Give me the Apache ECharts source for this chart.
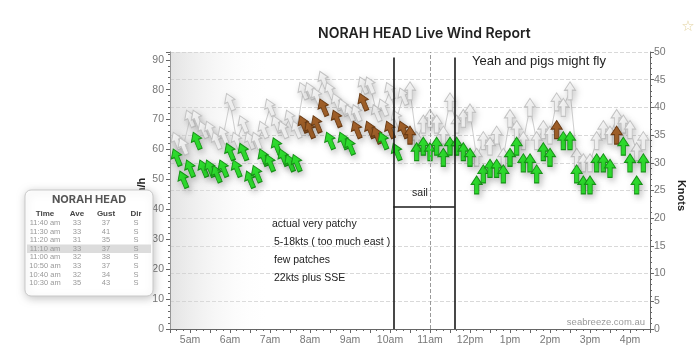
<!DOCTYPE html>
<html>
<head>
<meta charset="utf-8">
<script src="https://cdn.jsdelivr.net/npm/echarts@6/dist/echarts.min.js"></script>
<style>
  html, body { margin: 0; padding: 0; background: #fff; }
  #chart { width: 700px; height: 353px; }
</style>
</head>
<body>
<div id="chart"></div>
<script>
// 采样时间（每10分钟）
const times = [
  '04:40', '04:50', '05:00', '05:10', '05:20', '05:30', '05:40', '05:50',
  '06:00', '06:10', '06:20', '06:30', '06:40', '06:50',
  '07:00', '07:10', '07:20', '07:30', '07:40', '07:50',
  '08:00', '08:10', '08:20', '08:30', '08:40', '08:50',
  '09:00', '09:10', '09:20', '09:30', '09:40', '09:50',
  '10:00', '10:10', '10:20', '10:30', '10:40', '10:50',
  '11:00', '11:10', '11:20', '11:30', '11:40', '11:50',
  '12:00', '12:10', '12:20', '12:30', '12:40', '12:50',
  '13:00', '13:10', '13:20', '13:30', '13:40', '13:50',
  '14:00', '14:10', '14:20', '14:30', '14:40', '14:50',
  '15:00', '15:10', '15:20', '15:30', '15:40', '15:50',
  '16:00', '16:10', '16:20'
]
// 平均风速（节）
const aveKts = [
  31, 27, 29, 34, 29, 29, 28, 29,
  32, 29, 32, 27, 28, 31,
  30, 33, 31, 30, 30, 37,
  36, 37, 40, 34, 38, 34,
  33, 36, 41, 36, 35, 34,
  36, 32, 36, 35, 32, 33,
  32, 33, 31, 33, 33, 32,
  31, 26, 28, 29, 29, 28,
  31, 33, 30, 30, 28, 32,
  31, 36, 34, 34, 28, 26,
  26, 30, 30, 29, 35, 33,
  30, 26, 30
]
// 阵风（节）
const gustKts = [
  34, 33, 38, 38, 36, 36, 34, 35,
  41, 34, 37, 34, 34, 36,
  40, 37, 36, 38, 36, 43,
  43, 42, 45, 43, 41, 40,
  39, 39, 44, 44, 39, 40,
  43, 38, 42, 43, 34, 37,
  38, 37, 35, 41, 37, 38,
  39, 31, 34, 33, 35, 31,
  38, 36, 34, 40, 34, 36,
  35, 41, 40, 43, 31, 30,
  30, 34, 36, 35, 38, 37,
  36, 32, 34
]
// 风向
const dirs = [
  'SSE', 'SSE', 'SSE', 'SSE', 'SSE', 'SSE', 'SSE', 'SSE',
  'SSE', 'SSE', 'SSE', 'SSE', 'SSE', 'SSE',
  'SSE', 'SSE', 'SSE', 'SSE', 'SSE', 'SSE',
  'SSE', 'SSE', 'SSE', 'SSE', 'SSE', 'SSE',
  'SSE', 'SSE', 'SSE', 'SSE', 'SSE', 'SSE',
  'SSE', 'SSE', 'SSE', 'S', 'S', 'S',
  'S', 'S', 'S', 'S', 'S', 'S',
  'S', 'S', 'S', 'S', 'S', 'S',
  'S', 'S', 'S', 'S', 'S', 'S',
  'S', 'S', 'S', 'S', 'S', 'S',
  'S', 'S', 'S', 'S', 'S', 'S',
  'S', 'S', 'S'
]
const hourLabels = ['5am', '6am', '7am', '8am', '9am', '10am', '11am', '12pm', '1pm', '2pm', '3pm', '4pm']
const notes = ['actual very patchy', '5-18kts ( too much east )', 'few patches', '22kts plus SSE']
// 手画的标注线
const sailFrom = '10:05'
const sailTo = '11:37'
const sailKts = 22
const sailTopKts = 49
const crossTime = '11:00'
const nightEnd = '07:00'

const arrow = 'path://M5,0L10,8L7,8L7,17L3,17L3,8L0,8Z'
const dirDeg = {S: 180, SSE: 157.5, SE: 135}

function toMin(s) {
  let [h, m] = s.split(':')
  return Number(h) * 60 + Number(m)
}

function ampm(s) {
  let [h, m] = s.split(':').map(Number)
  let suffix = h >= 12 ? 'pm' : 'am'
  let hh = h > 12 ? h - 12 : h
  return hh + ':' + String(m).padStart(2, '0') + ' ' + suffix
}

function rot(value, params) {
  return 180 - dirDeg[dirs[params.dataIndex]]
}

// 平均风速超过35节用棕色
const aveData = times.map((t, i) => ({
  value: [toMin(t), aveKts[i]],
  itemStyle: aveKts[i] >= 35
    ? {color: '#a4622a', borderColor: '#6a3b14'}
    : {color: '#2fe22f', borderColor: '#169216'}
}))
const gustData = times.map((t, i) => [toMin(t), gustKts[i]])

// 左侧表格
const tableCols = [45, 77, 106, 136]
const tableRows = []
for (let i = 42; i >= 35; i--) {
  tableRows.push([ampm(times[i]), aveKts[i], gustKts[i], dirs[i]])
}
const tableGraphic = [
  {
    type: 'rect', z: 100,
    shape: {x: 25, y: 190, width: 128, height: 106, r: 6},
    style: {fill: '#fff', stroke: '#c9c9c9', lineWidth: 1, shadowBlur: 8, shadowColor: 'rgba(0,0,0,0.22)', shadowOffsetX: 1, shadowOffsetY: 2}
  },
  {
    type: 'rect', z: 101,
    shape: {x: 27, y: 244.5, width: 124, height: 8.6},
    style: {fill: '#dcdcdc'}
  },
  {
    type: 'text', z: 102, x: 89, y: 200,
    style: {text: 'NORAH HEAD', font: 'bold 11px Inter', fill: '#555', textAlign: 'center', textVerticalAlign: 'middle'}
  }
]
;['Time', 'Ave', 'Gust', 'Dir'].forEach((h, c) => {
  tableGraphic.push({
    type: 'text', z: 102, x: tableCols[c], y: 214,
    style: {text: h, font: 'bold 8px "Liberation Sans"', fill: '#444', textAlign: 'center', textVerticalAlign: 'middle'}
  })
})
tableRows.forEach((row, r) => {
  row.forEach((cell, c) => {
    tableGraphic.push({
      type: 'text', z: 102, x: tableCols[c], y: 223 + r * 8.6,
      style: {text: String(cell), font: '7.5px "Liberation Sans"', fill: '#999', textAlign: 'center', textVerticalAlign: 'middle'}
    })
  })
})

const noteGraphic = notes.map((n, i) => ({
  type: 'text', z: 50, x: i === 0 ? 272 : 274, y: 224 + i * 18,
  style: {text: n, font: '10.5px "Liberation Sans"', fill: '#222', textVerticalAlign: 'middle'}
}))

let myChart = echarts.init(document.getElementById('chart'))
myChart.setOption({
  animation: false,
  backgroundColor: '#fff',
  title: {
    text: 'NORAH HEAD Live Wind Report',
    left: 313, top: 22,
    textStyle: {fontFamily: 'Inter', fontSize: 14, fontWeight: 600, color: '#222'}
  },
  grid: {left: 170, right: 50, top: 52, bottom: 24},
  xAxis: {
    type: 'value',
    min: 270, max: 990, interval: 30,
    axisLine: {lineStyle: {color: '#666'}},
    axisTick: {length: 4, lineStyle: {color: '#666'}},
    minorTick: {show: true, splitNumber: 3, length: 2, lineStyle: {color: '#666'}},
    axisLabel: {
      color: '#777', fontSize: 10.5, margin: 6, fontFamily: 'Liberation Sans',
      formatter: v => v % 60 === 0 ? (hourLabels[(v - 300) / 60] || '') : ''
    },
    splitLine: {show: false}
  },
  yAxis: [
    {
      type: 'value', position: 'left',
      min: 0, max: 92.6, interval: 10,
      name: 'km/h', nameLocation: 'middle', nameGap: 23, nameRotate: 90, nameMoveOverlap: false,
      nameTextStyle: {color: '#222', fontWeight: 'bold', fontSize: 11, fontFamily: 'Liberation Sans'},
      axisLine: {show: true, lineStyle: {color: '#666'}},
      axisTick: {show: true, length: 4, lineStyle: {color: '#666'}},
      minorTick: {show: true, splitNumber: 5, length: 2, lineStyle: {color: '#666'}},
      axisLabel: {
        color: '#777', fontSize: 10.5, margin: 6, fontFamily: 'Liberation Sans', showMaxLabel: false,
        formatter: v => v % 10 === 0 ? v : ''
      },
      splitLine: {show: false}
    },
    {
      type: 'value', position: 'right',
      min: 0, max: 50, interval: 5,
      name: 'Knots', nameLocation: 'middle', nameGap: 26, nameRotate: -90, nameMoveOverlap: false,
      nameTextStyle: {color: '#222', fontWeight: 'bold', fontSize: 11, fontFamily: 'Liberation Sans', padding: [0, 0, 0, 10]},
      axisLine: {show: true, lineStyle: {color: '#666'}},
      axisTick: {show: true, length: 4, lineStyle: {color: '#666'}},
      minorTick: {show: true, splitNumber: 5, length: 2, lineStyle: {color: '#666'}},
      axisLabel: {color: '#777', fontSize: 10.5, margin: 4, fontFamily: 'Liberation Sans'},
      splitLine: {show: true, lineStyle: {color: '#d9d9d9', type: 'dashed'}}
    }
  ],
  series: [
    {
      name: 'Gust',
      type: 'line',
      yAxisIndex: 1,
      data: gustData,
      symbol: arrow,
      symbolSize: [11, 18],
      symbolRotate: rot,
      showAllSymbol: true,
      lineStyle: {color: '#cfcfcf', width: 1},
      itemStyle: {
        color: '#f6f6f6', borderColor: '#c2c2c2', borderWidth: 1,
        shadowBlur: 6, shadowColor: 'rgba(0,0,0,0.18)', shadowOffsetX: 2, shadowOffsetY: 3
      },
      z: 2,
      markArea: {
        silent: true,
        data: [[
          {
            xAxis: 270,
            itemStyle: {
              color: new echarts.graphic.LinearGradient(0, 0, 1, 0, [
                {offset: 0, color: 'rgba(200,200,200,0.5)'},
                {offset: 1, color: 'rgba(255,255,255,0)'}
              ])
            }
          },
          {xAxis: toMin(nightEnd)}
        ]]
      },
      markLine: {
        silent: true,
        symbol: ['none', 'none'],
        label: {show: false},
        lineStyle: {color: '#9a9a9a', type: 'dashed', width: 1},
        data: [{xAxis: toMin(crossTime)}]
      }
    },
    {
      name: 'Ave',
      type: 'line',
      yAxisIndex: 1,
      data: aveData,
      symbol: arrow,
      symbolSize: [11, 18],
      symbolRotate: rot,
      showAllSymbol: true,
      lineStyle: {opacity: 0},
      itemStyle: {
        borderWidth: 1,
        shadowBlur: 6, shadowColor: 'rgba(0,0,0,0.25)', shadowOffsetX: 2, shadowOffsetY: 3
      },
      z: 3,
      markLine: {
        silent: true,
        symbol: ['none', 'none'],
        label: {show: false},
        lineStyle: {color: '#1a1a1a', type: 'solid', width: 1.6},
        data: [
          [{coord: [toMin(sailFrom), 0]}, {coord: [toMin(sailFrom), sailTopKts]}],
          [{coord: [toMin(sailTo), 0]}, {coord: [toMin(sailTo), sailTopKts]}],
          [{coord: [toMin(sailFrom), sailKts]}, {coord: [toMin(sailTo), sailKts]}]
        ]
      }
    }
  ],
  graphic: [
    {
      type: 'text', x: 539, y: 61, z: 50,
      style: {text: 'Yeah and pigs might fly', font: '13px "Liberation Sans"', fill: '#222', textAlign: 'center', textVerticalAlign: 'middle'}
    },
    {
      type: 'text', x: 420, y: 193, z: 50,
      style: {text: 'sail', font: '10.5px "Liberation Sans"', fill: '#222', textAlign: 'center', textVerticalAlign: 'middle'}
    },
    {
      type: 'text', x: 645, y: 322, z: 50,
      style: {text: 'seabreeze.com.au', font: '9.5px "Liberation Sans"', fill: '#9a9a9a', textAlign: 'right', textVerticalAlign: 'middle'}
    },
    {
      type: 'text', x: 688, y: 27, z: 50,
      style: {text: '☆', font: '15px "DejaVu Sans"', fill: '#e3d3a0', textAlign: 'center', textVerticalAlign: 'middle'}
    },
    ...noteGraphic,
    ...tableGraphic
  ]
})
</script>
</body>
</html>
